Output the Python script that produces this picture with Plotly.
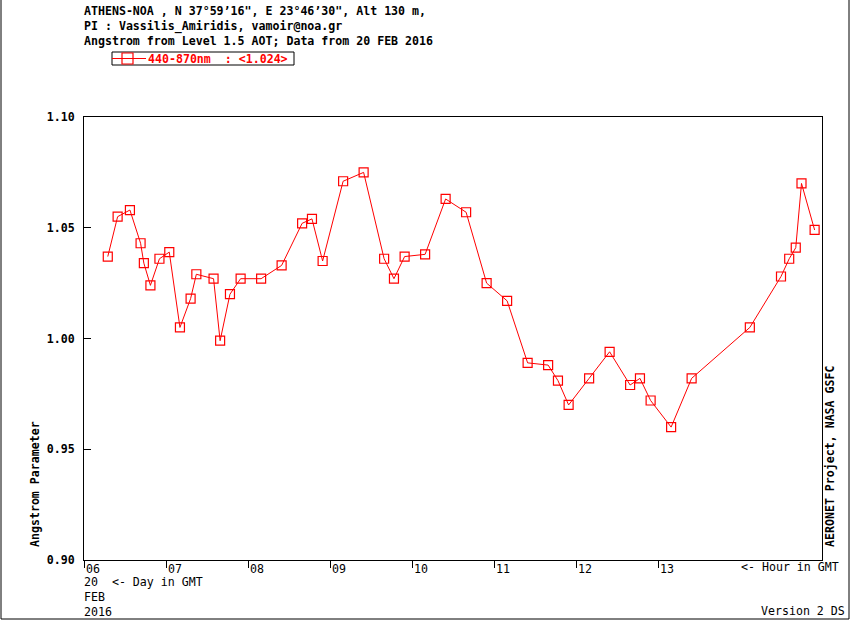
import plotly.graph_objects as go

# Angstrom 440-870nm, Level 1.5, ATHENS-NOA, 20 FEB 2016
hours = [6.29, 6.41, 6.56, 6.69, 6.73, 6.81, 6.92, 7.04, 7.17, 7.30, 7.37, 7.58,
         7.66, 7.78, 7.91, 8.16, 8.41, 8.66, 8.78, 8.91, 9.16, 9.41, 9.66, 9.78,
         9.91, 10.16, 10.41, 10.66, 10.91, 11.16, 11.41, 11.66, 11.78, 11.91,
         12.16, 12.41, 12.66, 12.78, 12.91, 13.16, 13.41, 14.12, 14.50, 14.60,
         14.68, 14.75, 14.91]
angstrom = [1.037, 1.055, 1.058, 1.043, 1.034, 1.024, 1.036, 1.039, 1.005, 1.018,
            1.029, 1.027, 0.999, 1.020, 1.027, 1.027, 1.033, 1.052, 1.054, 1.035,
            1.071, 1.075, 1.036, 1.027, 1.037, 1.038, 1.063, 1.057, 1.025, 1.017,
            0.989, 0.988, 0.981, 0.970, 0.982, 0.994, 0.979, 0.982, 0.972, 0.960,
            0.982, 1.005, 1.028, 1.036, 1.041, 1.070, 1.049]
hour_ticks = [6, 7, 8, 9, 10, 11, 12, 13]
hour_labels = ["06", "07", "08", "09", "10", "11", "12", "13"]
y_ticks = [0.90, 0.95, 1.00, 1.05, 1.10]
y_labels = ["0.90", "0.95", "1.00", "1.05", "1.10"]
series_name = "440-870nm&nbsp;&nbsp;: &lt;1.024&gt;"

FONT = "DejaVu Sans Mono"
FS = 11.6
RED = "#ff0000"

# plot box in pixels (850x620 page)
L, R, T, B = 84, 822, 117, 560
W, H = 850, 620


def px(x):
    return (x - L) / (R - L)


def py(y):
    return (B - y) / (B - T)


fig = go.Figure()
fig.add_trace(go.Scatter(
    x=hours, y=angstrom, mode="lines+markers", name=series_name,
    line=dict(color=RED, width=1),
    marker=dict(symbol="square-open", size=9, color=RED, line=dict(width=1.2)),
    showlegend=False,
))

notes = [
    # header
    dict(x=px(82), y=py(2), text="ATHENS-NOA , N 37°59’16\", E 23°46’30\", Alt 130 m,<br>"
         "PI : Vassilis_Amiridis, vamoir@noa.gr<br>"
         "Angstrom from Level 1.5 AOT; Data from 20 FEB 2016",
     xanchor="left", yanchor="top", align="left", weight="bold"),
    dict(x=px(739), y=py(567), text="&lt;- Hour in GMT", xanchor="left", yanchor="middle"),
    dict(x=px(82), y=py(573), text="20&nbsp;&nbsp;&lt;- Day in GMT<br>FEB<br>2016",
         xanchor="left", yanchor="top", align="left"),
    dict(x=px(847), y=py(611), text="Version 2 DS", xanchor="right", yanchor="middle"),
    dict(x=px(35), y=py(549), text="Angstrom Parameter", textangle=-90,
         xanchor="center", yanchor="bottom", weight="bold"),
    dict(x=px(830), y=py(549), text="AERONET Project, NASA GSFC", textangle=-90,
         xanchor="center", yanchor="bottom", weight="bold"),
    # legend text
    dict(x=px(146), y=py(58.5), text=series_name, xanchor="left", yanchor="middle",
         weight="bold", color=RED),
]
for n in notes:
    weight = n.pop("weight", "normal")
    color = n.pop("color", "black")
    fig.add_annotation(xref="paper", yref="paper", showarrow=False,
                       font=dict(family=FONT, size=FS, color=color, weight=weight), **n)

# legend box with its line-and-square key
fig.add_shape(type="rect", xref="paper", yref="paper",
              x0=px(112), x1=px(294), y0=py(65), y1=py(52),
              line=dict(color="black", width=1))
fig.add_shape(type="line", xref="paper", yref="paper",
              x0=px(112), x1=px(146), y0=py(58.5), y1=py(58.5),
              line=dict(color=RED, width=1))
fig.add_shape(type="rect", xref="paper", yref="paper",
              x0=px(122), x1=px(133), y0=py(64), y1=py(53),
              line=dict(color=RED, width=1.2))

# frame round the whole picture
fig.add_shape(type="rect", xref="paper", yref="paper",
              x0=px(1), x1=px(849), y0=py(619), y1=py(-5),
              line=dict(color="black", width=1))

fig.update_layout(
    width=W, height=H,
    margin=dict(l=L, r=W - R, t=T, b=H - B),
    paper_bgcolor="white", plot_bgcolor="white",
    font=dict(family=FONT, size=FS, color="black"),
    showlegend=False,
    xaxis=dict(range=[6, 15], tickvals=hour_ticks, ticktext=hour_labels,
               ticks="outside", ticklen=7, tickcolor="black",
               ticklabelshift=9, ticklabelstandoff=-9,
               showline=True, linecolor="black", linewidth=1, mirror=True,
               showgrid=False, zeroline=False),
    yaxis=dict(range=[0.90, 1.10], tickvals=y_ticks, ticktext=y_labels,
               ticks="inside", ticklen=7, tickcolor="black", ticklabelstandoff=6,
               tickfont=dict(weight="bold"),
               showline=True, linecolor="black", linewidth=1, mirror=True,
               showgrid=False, zeroline=False),
)

fig.write_html("out.html", config={"displayModeBar": False},
               post_script="document.body.style.margin='0';")
